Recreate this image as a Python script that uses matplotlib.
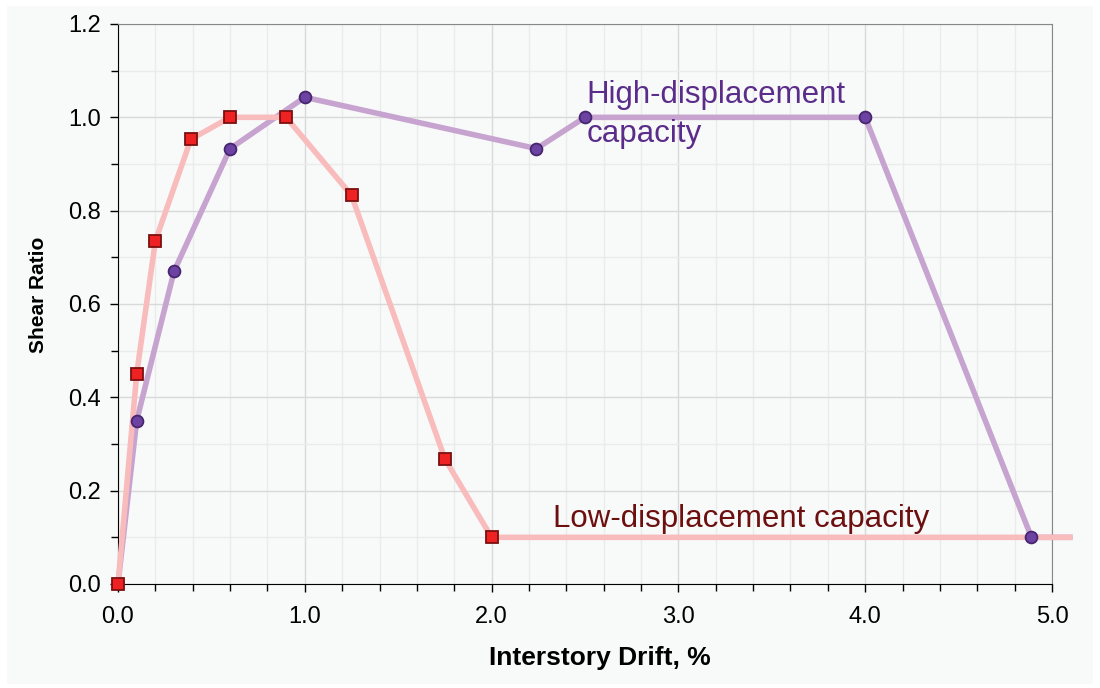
import matplotlib
matplotlib.use("Agg")
import matplotlib.pyplot as plt
from matplotlib.ticker import MultipleLocator, FormatStrFormatter

plt.rcParams['font.family'] = ['Liberation Sans', 'DejaVu Sans']

# high-displacement capacity (purple circles)
high_x = [0.0, 0.1, 0.3, 0.6, 1.0, 2.24, 2.5, 4.0, 4.89, 5.11]
high_y = [0.0, 0.35, 0.67, 0.933, 1.043, 0.933, 1.0, 1.0, 0.1, 0.1]
# low-displacement capacity (red squares)
low_x = [0.0, 0.1, 0.2, 0.39, 0.6, 0.9, 1.25, 1.75, 2.0, 5.11]
low_y = [0.0, 0.45, 0.735, 0.953, 1.0, 1.0, 0.833, 0.268, 0.1, 0.1]

bg = '#f8f9f9'
fig = plt.figure(figsize=(11, 6.88), dpi=100, facecolor='white')
fig.patches.append(plt.Rectangle((0.006, 0.006), 0.988, 0.985, transform=fig.transFigure,
                                 facecolor=bg, edgecolor='none', zorder=-10))
ax = fig.add_axes([118/1100, 1 - 584/688, (1052-118)/1100, (584-24)/688])
ax.set_facecolor(bg)

ax.plot(low_x, low_y, color='#f9bcbc', lw=4, solid_capstyle='butt', clip_on=False, zorder=3)
ax.plot(high_x, high_y, color='#c6a4cf', lw=4, solid_capstyle='butt', clip_on=False, zorder=2)
ax.plot(high_x[1:-1], high_y[1:-1], 'o', ms=8.5, mfc='#6c43a3', mec='#47256f', mew=1.3,
        clip_on=False, zorder=5)
ax.plot(low_x[:-1], low_y[:-1], 's', ms=9, mfc='#ee2222', mec='#7a1010', mew=1.3,
        clip_on=False, zorder=6)

ax.set_xlim(0, 5.0)
ax.set_ylim(0, 1.2)
ax.xaxis.set_major_locator(MultipleLocator(1.0))
ax.xaxis.set_minor_locator(MultipleLocator(0.2))
ax.yaxis.set_major_locator(MultipleLocator(0.2))
ax.yaxis.set_minor_locator(MultipleLocator(0.1))
ax.xaxis.set_major_formatter(FormatStrFormatter('%.1f'))
ax.yaxis.set_major_formatter(FormatStrFormatter('%.1f'))

ax.grid(which='major', color='#d9d9d9', lw=1)
ax.grid(which='minor', color='#ebebeb', lw=1)
ax.set_axisbelow(True)

ax.tick_params(which='major', length=6, width=1, labelsize=17, pad=6, color='black')
ax.tick_params(which='minor', length=5, width=1, color='black')
ax.tick_params(axis='x', pad=10)

ax.spines['left'].set_color('black')
ax.spines['bottom'].set_color('black')
ax.spines['top'].set_color('#888888')
ax.spines['right'].set_color('#888888')

ax.set_xlabel('Interstory Drift, %', fontsize=19, fontweight='bold')
ax.set_ylabel('Shear Ratio', fontsize=15, fontweight='bold')
ax.xaxis.set_label_coords(0.516, -0.11)
ax.yaxis.set_label_coords(-0.075, 0.516)

ax.text(2.51, 1.031, 'High-displacement', color='#5b2d8a', fontsize=22.5,
        ha='left', va='baseline')
ax.text(2.51, 0.947, 'capacity', color='#5b2d8a', fontsize=22.5,
        ha='left', va='baseline')
ax.text(2.33, 0.122, 'Low-displacement capacity', color='#6b0f0f', fontsize=22.5,
        ha='left', va='baseline')

fig.savefig('out.png', dpi=100, facecolor='white')
